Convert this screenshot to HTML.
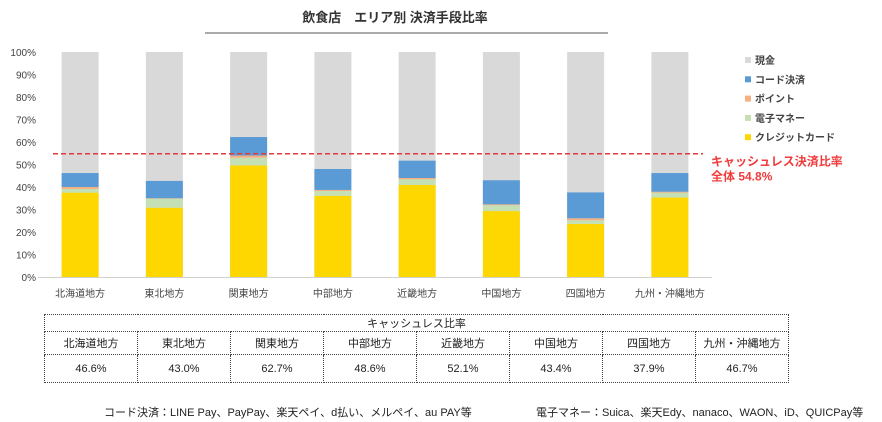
<!DOCTYPE html>
<html><head><meta charset="utf-8"><style>
body{margin:0;background:#fff;width:882px;height:422px;overflow:hidden;font-family:"Liberation Sans","Noto Sans CJK JP",sans-serif}
svg{position:absolute;left:0;top:0}
table{position:absolute;left:44px;top:314px;width:745px;border-collapse:collapse;font-size:11px;color:#222;table-layout:fixed}
td{border:1px dotted #444;text-align:center;padding:0;height:22px}
.foot{position:absolute;top:404px;font-size:11px;color:#222;white-space:nowrap}
</style></head><body>
<svg id="chart" width="882" height="422"></svg>
<table>
<tr><td colspan="8" style="height:15px">キャッシュレス比率</td></tr>
<tr><td>北海道地方</td><td>東北地方</td><td>関東地方</td><td>中部地方</td><td>近畿地方</td><td>中国地方</td><td>四国地方</td><td>九州・沖縄地方</td></tr>
<tr style="height:28px"><td>46.6%</td><td>43.0%</td><td>62.7%</td><td>48.6%</td><td>52.1%</td><td>43.4%</td><td>37.9%</td><td>46.7%</td></tr>
</table>
<div class="foot" style="left:104px">コード決済：LINE Pay、PayPay、楽天ペイ、d払い、メルペイ、au PAY等</div>
<div class="foot" style="left:536px">電子マネー：Suica、楽天Edy、nanaco、WAON、iD、QUICPay等</div>
<script>
const categories=["北海道地方","東北地方","関東地方","中部地方","近畿地方","中国地方","四国地方","九州・沖縄地方"];
const credit=[37.5,30.8,49.6,36.1,40.9,29.3,23.6,35.3];
const emoney=[1.6,4.0,3.4,2.1,2.5,2.6,1.6,2.2];
const point=[0.9,0.2,1.0,0.5,0.6,0.4,0.9,0.4];
const code=[6.2,7.7,8.2,9.3,7.7,10.7,11.5,8.3];
const yTicks=[0,10,20,30,40,50,60,70,80,90,100];
const overall=54.8;
const seriesNames=["現金","コード決済","ポイント","電子マネー","クレジットカード"];
const seriesColors=["#d9d9d9","#5b9bd5","#f4b183","#c5e0b4","#ffd700"];
const NS="http://www.w3.org/2000/svg";
const svg=document.getElementById('chart');
const x0=38,x1=712,yB=277,yT=52;
const band=(x1-x0)/categories.length,bw=37;
const y=v=>yB-(yB-yT)*v/100;
const xc=i=>x0+band*(i+0.5);
function mk(t,a,txt){const e=document.createElementNS(NS,t);for(const k in a)e.setAttribute(k,a[k]);if(txt!==undefined)e.textContent=txt;svg.appendChild(e);return e;}
let e=mk('text',{x:395,y:22,'text-anchor':'middle','font-size':13,'font-weight':'bold',fill:'#333'},'飲食店　エリア別 決済手段比率');


e=mk('line',{x1:205,x2:608,y1:33,y2:33,stroke:'#555','stroke-width':1});


yTicks.forEach(t=>{const l=mk('text',{x:36,y:y(t)+4,'text-anchor':'end','font-size':10,fill:'#444'},t+'%');

});
e=mk('line',{x1:x0,x2:x1,y1:yB+0.5,y2:yB+0.5,stroke:'#d0d0d0'});


categories.forEach((c,i)=>{
 const stack=[credit[i],emoney[i],point[i],code[i]];
 const cols=[seriesColors[4],seriesColors[3],seriesColors[2],seriesColors[1]];
 let base=0;
 const g=mk('rect',{x:xc(i)-bw/2,y:y(100),width:bw,height:y(0)-y(100),fill:seriesColors[0]});
 
 
 stack.forEach((v,k)=>{const r=mk('rect',{x:xc(i)-bw/2,y:y(base+v),width:bw,height:y(base)-y(base+v),fill:cols[k]});
 
 
 base+=v;});
 const t=mk('text',{x:xc(i),y:297,'text-anchor':'middle','font-size':10,fill:'#444'},c);
 
 
});
e=mk('line',{x1:53,x2:703,y1:y(overall),y2:y(overall),stroke:'#e0393e','stroke-width':1.5,'stroke-dasharray':'5,3'});


e=mk('text',{x:711,y:y(overall)+12,'font-size':12,'font-weight':'bold',fill:'#f03c3c'},'キャッシュレス決済比率');


e=mk('text',{x:711,y:y(overall)+27,'font-size':12,'font-weight':'bold',fill:'#f03c3c'},'全体 '+overall+'%');


seriesNames.forEach((n,k)=>{const yy=60+k*19.3;
 const r=mk('rect',{x:745,y:yy-3,width:6,height:6,fill:seriesColors[k]});
 
 
 const t=mk('text',{x:755,y:yy+4,'font-size':10,'font-weight':'bold',fill:'#444'},n);
 
 
});
</script>
</body></html>
